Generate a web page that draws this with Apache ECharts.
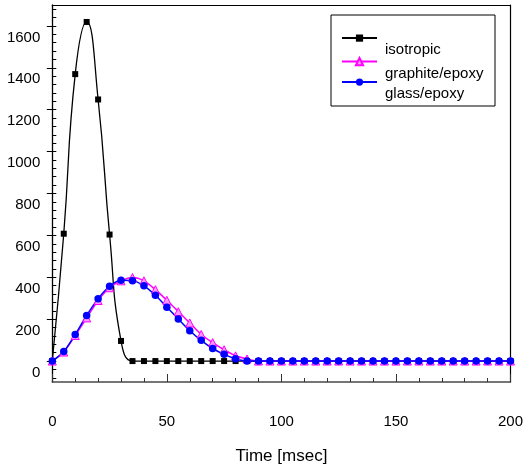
<!DOCTYPE html>
<html><head><meta charset="utf-8">
<script src="https://cdn.jsdelivr.net/npm/echarts@6/dist/echarts.min.js"></script>
<style>html,body{margin:0;padding:0;background:#fff}#c{width:526px;height:470px}</style>
</head><body><div id="c"></div>
<script>
// ---- data ----
const times = [0,5,10,15,20,25,30,35,40,45,50,55,60,65,70,75,80,85,90,95,100,105,110,115,120,125,130,135,140,145,150,155,160,165,170,175,180,185,190,195,200];
const isotropic = [0,608,1370,1619,1249,604,96,0,0,0,0,0,0,0,0,0,0,0,0,0,0,0,0,0,0,0,0,0,0,0,0,0,0,0,0,0,0,0,0,0,0];
const graphiteEpoxy = [0,43,122,206,289,350,383,399,383,341,290,236,182,127,88,54,25,10,0,0,0,0,0,0,0,0,0,0,0,0,0,0,0,0,0,0,0,0,0,0,0];
const glassEpoxy = [0,46,127,218,298,357,386,384,359,314,257,201,145,99,60,32,11,0,0,0,0,0,0,0,0,0,0,0,0,0,0,0,0,0,0,0,0,0,0,0,0];
const seriesNames = ['isotropic','graphite/epoxy','glass/epoxy'];
const xTicks = [0,50,100,150,200];
const yTicks = [0,200,400,600,800,1000,1200,1400,1600];
const xTitle = 'Time [msec]';

// ---- layout ----
const W = 526, H = 470;
const plotLeft = 52.3, plotRight = 513, plotTop = 5, plotBottom = 382;
const yMin = -100, yMax = 1700;
const k = (plotBottom - plotTop) / (yMax - yMin);
const yPx = v => plotBottom - (v - yMin) * k;
const font = 'Liberation Sans, Arial, sans-serif';
const legendRows = [39, 61.5, 83];

const pair = arr => times.map((t, i) => [t, arr[i]]);

const chart = echarts.init(document.getElementById('c'), null, {renderer: 'canvas'});
const gridBase = {left: plotLeft, right: W - plotRight};
chart.setOption({
  animation: false,
  backgroundColor: '#fff',
  textStyle: {fontFamily: font},
  grid: [
    Object.assign({top: plotTop, bottom: H - plotBottom}, gridBase),
    Object.assign({top: yPx(1680), bottom: H - yPx(-80)}, gridBase),
    Object.assign({top: yPx(yTicks[yTicks.length-1]), bottom: H - yPx(yTicks[0])}, gridBase)
  ],
  xAxis: [
    {gridIndex: 0, type: 'value', min: xTicks[0], max: xTicks[xTicks.length-1], interval: 50,
     axisLine: {show: true, onZero: false, lineStyle: {color: '#4a4a4a', width: 1.5}},
     axisTick: {show: true, inside: true, length: 8, lineStyle: {color: '#333', width: 1}},
     minorTick: {show: true, splitNumber: 5, length: 4, lineStyle: {color: '#333', width: 1}},
     splitLine: {show: false},
     axisLabel: {margin: 32, fontSize: 15, color: '#000', fontFamily: font},
     name: xTitle, nameLocation: 'middle', nameGap: 66,
     nameTextStyle: {fontSize: 17, color: '#000', fontFamily: font}},
    {gridIndex: 0, type: 'value', position: 'top', min: 0, max: 200,
     axisLine: {show: true, onZero: false, lineStyle: {color: '#000', width: 1.2}},
     axisTick: {show: false}, axisLabel: {show: false}, splitLine: {show: false}},
    {gridIndex: 1, type: 'value', min: 0, max: 200, show: false},
    {gridIndex: 2, type: 'value', min: 0, max: 200, show: false}
  ],
  yAxis: [
    {gridIndex: 0, type: 'value', min: yMin, max: yMax,
     axisLine: {show: true, onZero: false, lineStyle: {color: '#000', width: 1.3}},
     axisTick: {show: false}, axisLabel: {show: false}, splitLine: {show: false}},
    {gridIndex: 0, type: 'value', position: 'right', min: yMin, max: yMax,
     axisLine: {show: true, onZero: false, lineStyle: {color: '#000', width: 1.2}},
     axisTick: {show: false}, axisLabel: {show: false}, splitLine: {show: false}},
    {gridIndex: 1, type: 'value', min: -80, max: 1680, interval: 40,
     axisLine: {show: false},
     axisTick: {show: true, inside: true, length: 4, lineStyle: {color: '#000', width: 1}},
     axisLabel: {show: false}, splitLine: {show: false}},
    {gridIndex: 2, type: 'value', min: yTicks[0], max: yTicks[yTicks.length-1], interval: 200,
     axisLine: {show: false},
     axisTick: {show: true, inside: false, length: 5.5, lineStyle: {color: '#000', width: 1}},
     axisLabel: {margin: 12, fontSize: 15, color: '#000', fontFamily: font,
                 verticalAlign: 'top', padding: [4, 0, 0, 0],
                 formatter: v => yTicks.indexOf(v) >= 0 ? String(v) : ''},
     splitLine: {show: false}}
  ],
  legend: seriesNames.map((name, i) => ({
    orient: 'vertical', left: 341, top: legendRows[i] - 4.5, padding: 0,
    itemWidth: 35, itemHeight: 9,
    data: [name],
    formatter: '{a|{name}}',
    textStyle: {fontSize: 15, color: '#000', fontFamily: font,
                rich: {a: {fontSize: 15, fontFamily: font, color: '#000', padding: [24, 0, 0, 3]}}}
  })),
  graphic: [
    {type: 'rect', shape: {x: 331, y: 15, width: 164, height: 91}, z: -1,
     style: {fill: '#fff', stroke: '#000', lineWidth: 1}}
  ],
  series: [
    {name: seriesNames[0], type: 'line', xAxisIndex: 0, yAxisIndex: 0, data: pair(isotropic),
     smooth: 0.5, symbol: 'rect', symbolSize: 6, showAllSymbol: true,
     lineStyle: {color: '#000', width: 1.3}, itemStyle: {color: '#000'}},
    {name: seriesNames[1], type: 'line', xAxisIndex: 0, yAxisIndex: 0, data: pair(graphiteEpoxy),
     smooth: 0.3, symbol: 'triangle', symbolSize: 8, showAllSymbol: true,
     lineStyle: {color: '#ff00ff', width: 1.5},
     itemStyle: {color: '#ff99ff', borderColor: '#ff00ff', borderWidth: 1}},
    {name: seriesNames[2], type: 'line', xAxisIndex: 0, yAxisIndex: 0, data: pair(glassEpoxy),
     smooth: 0.3, symbol: 'circle', symbolSize: 7.5, showAllSymbol: true,
     lineStyle: {color: '#0000ff', width: 1.5}, itemStyle: {color: '#0000ff'}}
  ]
});
</script></body></html>
